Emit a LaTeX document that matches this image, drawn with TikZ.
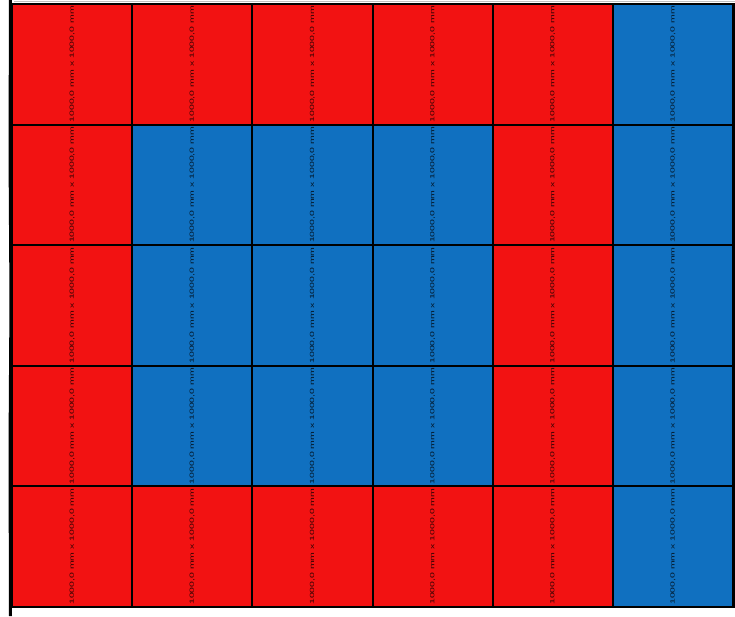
\documentclass[tikz,border=0pt]{standalone}
\usepackage{fontspec}
\setmainfont{Liberation Sans}
\usepackage{graphicx}
\definecolor{cellred}{RGB}{242,18,18}
\definecolor{cellblue}{RGB}{16,112,192}
\begin{document}
\begin{tikzpicture}[x=1pt,y=-1pt,
  cell/.style={draw=black, line width=2pt, minimum width=120.17pt, minimum height=120.6pt,
    inner sep=0pt, outer sep=0pt, anchor=north west},
  lab/.style={rotate=90, inner sep=0pt, text=black, text opacity=0.8},
  edge/.style={draw=black, line width=3pt}]
\useasboundingbox[fill=white] (0,0) rectangle (735,616);
\draw[gray!50, line width=0.8pt] (14,1) -- (735,1);
\foreach \row [count=\r] in {
  {cellred,cellred,cellred,cellred,cellred,cellblue},
  {cellred,cellblue,cellblue,cellblue,cellred,cellblue},
  {cellred,cellblue,cellblue,cellblue,cellred,cellblue},
  {cellred,cellblue,cellblue,cellblue,cellred,cellblue},
  {cellred,cellred,cellred,cellred,cellred,cellblue}} {
  \foreach \col [count=\c] in \row {
    \node[cell, fill=\col] (cell-\r-\c) at ({12+(\c-1)*120.17},{4+(\r-1)*120.6}) {};
  }
}
\foreach \r in {1,...,5} {
  \foreach \c in {1,...,6} {
    \node[lab] (lab-\r-\c) at (cell-\r-\c.center)
      {\scalebox{1.75}[1]{\fontsize{6}{6}\selectfont 1000,0 mm x 1000,0 mm}};
  }
}
\draw[black, line width=2pt] (12,4) rectangle (733.5,607);
\draw[edge] (10.5,0) -- (10,150) -- (11,300) -- (10,450) -- (10.5,616);
\end{tikzpicture}
\end{document}
